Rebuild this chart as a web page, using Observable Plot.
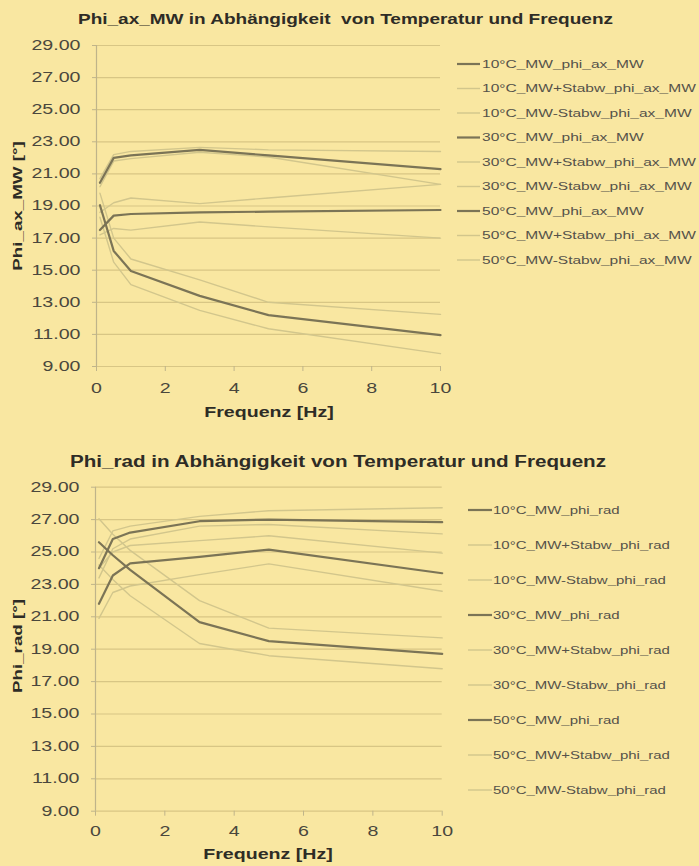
<!DOCTYPE html>
<html><head><meta charset="utf-8">
<script src="https://cdn.jsdelivr.net/npm/d3@7"></script>
<script src="https://cdn.jsdelivr.net/npm/@observablehq/plot@0.6"></script>
<style>
body{margin:0;background:#f9e7a1;}
#c{width:699px;overflow:hidden;}
svg{display:block;overflow:hidden;}
</style></head><body><div id="c"></div>
<script>
// ---- data ----
const freqHz = [0.1, 0.5, 1, 3, 5, 10];
const xTicks = [0, 2, 4, 6, 8, 10];
const yTicks = [9, 11, 13, 15, 17, 19, 21, 23, 25, 27, 29];

const axNames = ["10°C_MW_phi_ax_MW","10°C_MW+Stabw_phi_ax_MW","10°C_MW-Stabw_phi_ax_MW",
  "30°C_MW_phi_ax_MW","30°C_MW+Stabw_phi_ax_MW","30°C_MW-Stabw_phi_ax_MW",
  "50°C_MW_phi_ax_MW","50°C_MW+Stabw_phi_ax_MW","50°C_MW-Stabw_phi_ax_MW"];
const ax10MW    = [20.45, 22.0, 22.15, 22.5, 22.15, 21.3];
const ax10Plus  = [20.7, 22.2, 22.4, 22.65, 22.5, 22.4];
const ax10Minus = [20.2, 21.8, 21.95, 22.35, 22.05, 20.35];
const ax30MW    = [17.5, 18.4, 18.5, 18.6, 18.65, 18.75];
const ax30Plus  = [18.6, 19.2, 19.5, 19.15, 19.5, 20.35];
const ax30Minus = [17.2, 17.6, 17.5, 18.0, 17.7, 17.0];
const ax50MW    = [19.05, 16.2, 14.95, 13.4, 12.2, 10.95];
const ax50Plus  = [19.8, 17.0, 15.7, 14.4, 13.0, 12.25];
const ax50Minus = [18.3, 15.5, 14.1, 12.5, 11.35, 9.8];

const radNames = ["10°C_MW_phi_rad","10°C_MW+Stabw_phi_rad","10°C_MW-Stabw_phi_rad",
  "30°C_MW_phi_rad","30°C_MW+Stabw_phi_rad","30°C_MW-Stabw_phi_rad",
  "50°C_MW_phi_rad","50°C_MW+Stabw_phi_rad","50°C_MW-Stabw_phi_rad"];
const rad10MW    = [24.0, 25.8, 26.2, 26.9, 27.0, 26.84];
const rad10Plus  = [24.6, 26.3, 26.6, 27.2, 27.55, 27.73];
const rad10Minus = [23.4, 25.2, 25.8, 26.6, 26.7, 26.12];
const rad30MW    = [21.8, 23.55, 24.3, 24.7, 25.15, 23.69];
const rad30Plus  = [24.0, 25.0, 25.4, 25.7, 26.0, 24.93];
const rad30Minus = [20.9, 22.5, 22.9, 23.6, 24.27, 22.58];
const rad50MW    = [25.6, 24.8, 23.9, 20.67, 19.5, 18.71];
const rad50Plus  = [27.05, 26.1, 25.1, 22.0, 20.3, 19.7];
const rad50Minus = [24.2, 23.3, 22.3, 19.35, 18.6, 17.79];

const darkFlags = [true, false, false, true, false, false, true, false, false];

// ---- style ----
const FONT = "'Liberation Sans', Arial, sans-serif";
const GRID = "#d8c685", AXIS = "#bfb48a", DARK = "#7b7456", LIGHT = "#d2c68c";
const STRETCH = 1.4;

function chart(cfg) {
  const rows = cfg.values.flatMap((vals, i) =>
    freqHz.map((f, j) => ({name: cfg.names[i], dark: darkFlags[i], f, v: vals[j]})));
  const svg = Plot.plot({
    width: 699, height: cfg.height,
    marginLeft: cfg.ml, marginRight: cfg.mr, marginTop: cfg.mt, marginBottom: cfg.mb,
    style: {background: "transparent", fontFamily: FONT, overflow: "hidden"},
    x: {domain: [0, 10]},
    y: {domain: [9, 29]},
    marks: [
      Plot.ruleY(yTicks, {stroke: GRID, strokeWidth: 1.2}),
      Plot.ruleX([0], {stroke: AXIS, strokeWidth: 1.2}),
      Plot.axisY({ticks: yTicks, tickFormat: d3.format(".2f"), tickSize: 4, tickPadding: 12,
        fontSize: 14, fill: "#4a473d", stroke: AXIS, label: null}),
      Plot.axisX({ticks: xTicks, tickSize: 5, tickPadding: cfg.xpad, fontSize: 14,
        fill: "#4a473d", stroke: AXIS, label: null}),
      Plot.line(rows.filter(d => !d.dark), {x: "f", y: "v", z: "name", stroke: LIGHT, strokeWidth: 1.4}),
      Plot.line(rows.filter(d => d.dark), {x: "f", y: "v", z: "name", stroke: DARK, strokeWidth: 2.2})
    ]
  });
  document.getElementById("c").appendChild(svg);
  const s = d3.select(svg);
  s.append("text").attr("class", "ttl").attr("x", cfg.title.x).attr("y", cfg.title.y).attr("text-anchor", "start")
    .attr("font-size", cfg.title.size).attr("font-weight", "bold").attr("fill", "#2e2c26")
    .text(cfg.title.text);
  s.append("text").attr("x", cfg.xlab.x).attr("y", cfg.xlab.y).attr("text-anchor", "middle")
    .attr("font-size", 14).attr("font-weight", "bold").attr("fill", "#2e2c26").text("Frequenz [Hz]");
  s.append("text").attr("transform", `translate(${cfg.ylab.x},${cfg.ylab.y}) rotate(-90)`)
    .attr("text-anchor", "middle").attr("font-size", 13.4).attr("font-weight", "bold")
    .attr("fill", "#2e2c26").text(cfg.ylab.text);
  const lg = s.append("g");
  cfg.names.forEach((n, i) => {
    const y = cfg.leg.y0 + i * cfg.leg.dy;
    lg.append("line").attr("x1", cfg.leg.x1).attr("x2", cfg.leg.x2).attr("y1", y).attr("y2", y)
      .attr("stroke", darkFlags[i] ? DARK : LIGHT).attr("stroke-width", darkFlags[i] ? 2.2 : 1.4);
    lg.append("text").attr("x", cfg.leg.tx).attr("y", y).attr("dy", "0.36em").attr("text-anchor", "start")
      .attr("font-size", cfg.leg.size).attr("fill", "#55524a").text(n);
  });
  svg.querySelectorAll("text").forEach(t => {
    const len = t.getComputedTextLength();
    if (len > 0) {
      const target = t.classList.contains("ttl") ? cfg.title.width : len * STRETCH;
      t.setAttribute("textLength", target.toFixed(1));
      t.setAttribute("lengthAdjust", "spacingAndGlyphs");
    }
  });
}

chart({
  names: axNames,
  values: [ax10MW, ax10Plus, ax10Minus, ax30MW, ax30Plus, ax30Minus, ax50MW, ax50Plus, ax50Minus],
  height: 433, ml: 96, mr: 259, mt: 45, mb: 67, xpad: 12,
  title: {text: "Phi_ax_MW in Abhängigkeit  von Temperatur und Frequenz", x: 78, y: 23.5, size: 14.6, width: 535},
  xlab: {x: 269, y: 417},
  ylab: {text: "Phi_ax_MW [°]", x: 22, y: 206},
  leg: {y0: 64, dy: 24.5, x1: 457, x2: 480, tx: 482, size: 11.1}
});

chart({
  names: radNames,
  values: [rad10MW, rad10Plus, rad10Minus, rad30MW, rad30Plus, rad30Minus, rad50MW, rad50Plus, rad50Minus],
  height: 433, ml: 95, mr: 257.3, mt: 53.7, mb: 55.3, xpad: 10,
  title: {text: "Phi_rad in Abhängigkeit von Temperatur und Frequenz", x: 70, y: 34, size: 16, width: 536},
  xlab: {x: 268, y: 426},
  ylab: {text: "Phi_rad [°]", x: 22, y: 213},
  leg: {y0: 77, dy: 35, x1: 468, x2: 492, tx: 493, size: 10.7}
});
</script>
</body></html>
